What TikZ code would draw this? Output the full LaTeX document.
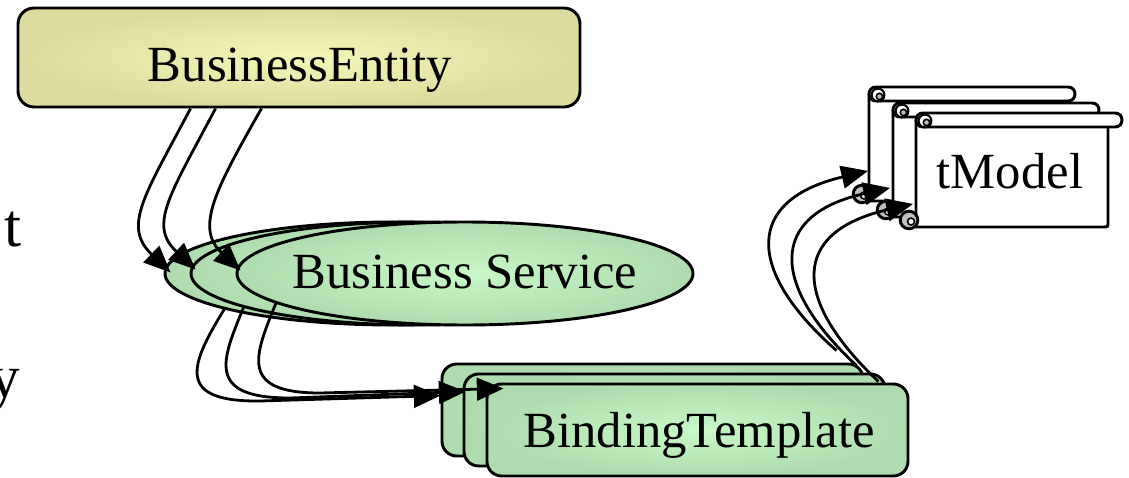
\documentclass[tikz,border=0pt]{standalone}
\usepackage{fontspec}
\setmainfont{Liberation Serif}
\usetikzlibrary{shapes.geometric,arrows.meta,calc}
\definecolor{beinner}{HTML}{F4F6B6}
\definecolor{beouter}{HTML}{DCDCA0}
\definecolor{grinner}{HTML}{C8F8C8}
\definecolor{grouter}{HTML}{AEDCAE}
\definecolor{curlgray}{HTML}{C0C0C0}
\tikzset{
  scrollpic/.pic={
    \draw[fill=white] (0,7) -- (0,114) -- (187,114) .. controls (192,114) .. (192,109) -- (192,7);
    \draw[fill=white] (7,0) -- (199,0) .. controls (208.3,0) and (208.3,14) .. (199,14) -- (7,14) .. controls (-2.3,14) and (-2.3,0) .. (7,0) -- cycle;
    \draw[line width=1.6pt, fill=white] (9,8) circle[radius=4.8pt];
    \draw[line width=1.2pt, fill=curlgray] (10.5,9.5) circle[radius=2.4pt];
    \draw[fill=curlgray] (-7,107) circle[radius=6.6pt];
    \draw[line width=1.2pt, fill=white] (-5,108.5) circle[radius=2.6pt];
  }
}
\begin{document}
\begin{tikzpicture}[x=0.75pt, y=-0.75pt, line width=2.2pt,
  lbl/.style={font=\fontsize{38}{40}\selectfont, inner sep=0pt, anchor=base},
  cut/.style={font=\fontsize{46}{48}\selectfont, inner sep=0pt, anchor=base east},
  bebox/.style={draw, rounded corners=12pt, shade, inner color=beinner, outer color=beouter, minimum width=421.5pt, minimum height=74.25pt, inner sep=0pt},
  esell/.style={ellipse, draw, shade, inner color=grinner, outer color=grouter, minimum width=342pt, minimum height=77.25pt, inner sep=0pt},
  btbox/.style={draw, rounded corners=11pt, shade, inner color=grinner, outer color=grouter, minimum width=315.75pt, minimum height=69pt, inner sep=0pt},
  tmbox/.style={minimum width=144pt, minimum height=75pt, inner sep=0pt, anchor=north west},
  conn/.style={-{Triangle[length=20pt,width=17pt]}, line width=2.1pt},
]
\useasboundingbox (0,0) rectangle (1129,478);

% cut-off letters at the left
\node[cut] (cutt) at (23,246) {t};
\node[cut] (cuty) at (22,397) {y};

% BusinessEntity
\node[bebox] (be) at (299,57.5) {};
\node[lbl] (belbl) at (300,82) {BusinessEntity};

% Business Service ellipses
\node[esell] (es1) at (393,273.5) {};
\node[esell] (es2) at (419,273.5) {};
\node[esell] (es3) at (465,273.5) {};
\node[lbl] (eslbl) at (465,288) {Business Service};

% BindingTemplate boxes
\node[btbox] (bt1) at (652.5,410) {};
\node[btbox] (bt2) at (674.5,420) {};
\node[btbox] (bt3) at (697.5,430) {};
\node[lbl] (btlbl) at (699,447) {BindingTemplate};

% tModel scrolls
\pic at (869,87) {scrollpic};
\pic at (893,103) {scrollpic};
\pic at (916,113) {scrollpic};
\node[tmbox] (tm1) at (869,101) {};
\node[tmbox] (tm2) at (893,117) {};
\node[tmbox] (tm3) at (916,127) {};
\node[lbl] (tmlbl) at (1010,188) {tModel};

% BusinessEntity -> Business Service
\draw[conn] ($(be.south west)+(174,0)$) .. controls (145,195) and (122,226) .. ($(es1.west)+(7,-1)$);
\draw[conn] ($(be.south west)+(199,0)$) .. controls (170,195) and (148,225) .. ($(es2.west)+(6,-4)$);
\draw[conn] ($(be.south west)+(245,0)$) .. controls (215,190) and (195,228) .. ($(es3.west)+(5,-3)$);

% Business Service -> BindingTemplate
\draw[conn] (es1.192) .. controls (190,365) and (175,402) .. (260,401) -- ($(bt1.north west)+(0,33)$);
\draw[conn] (es2.191) .. controls (222,360) and (205,398) .. (290,398) -- ($(bt2.north west)+(3,19)$);
\draw[conn] (es3.189) .. controls (255,355) and (238,393) .. (320,393) -- ($(bt3.north west)+(18,6)$);

% BindingTemplate -> tModel
\draw[conn] ($(bt1.north east)+(-28,-12)$) .. controls (745,270) and (745,200) .. ($(tm1.south west)+(-1,-33)$);
\draw[conn] ($(bt2.north east)+(-30,-7)$) .. controls (770,285) and (768,215) .. ($(tm2.south west)+(-3,-32)$);
\draw[conn] ($(bt3.north east)+(-31,-1)$) .. controls (792,300) and (790,232) .. ($(tm3.south west)+(-3,-26)$);
\end{tikzpicture}
\end{document}
